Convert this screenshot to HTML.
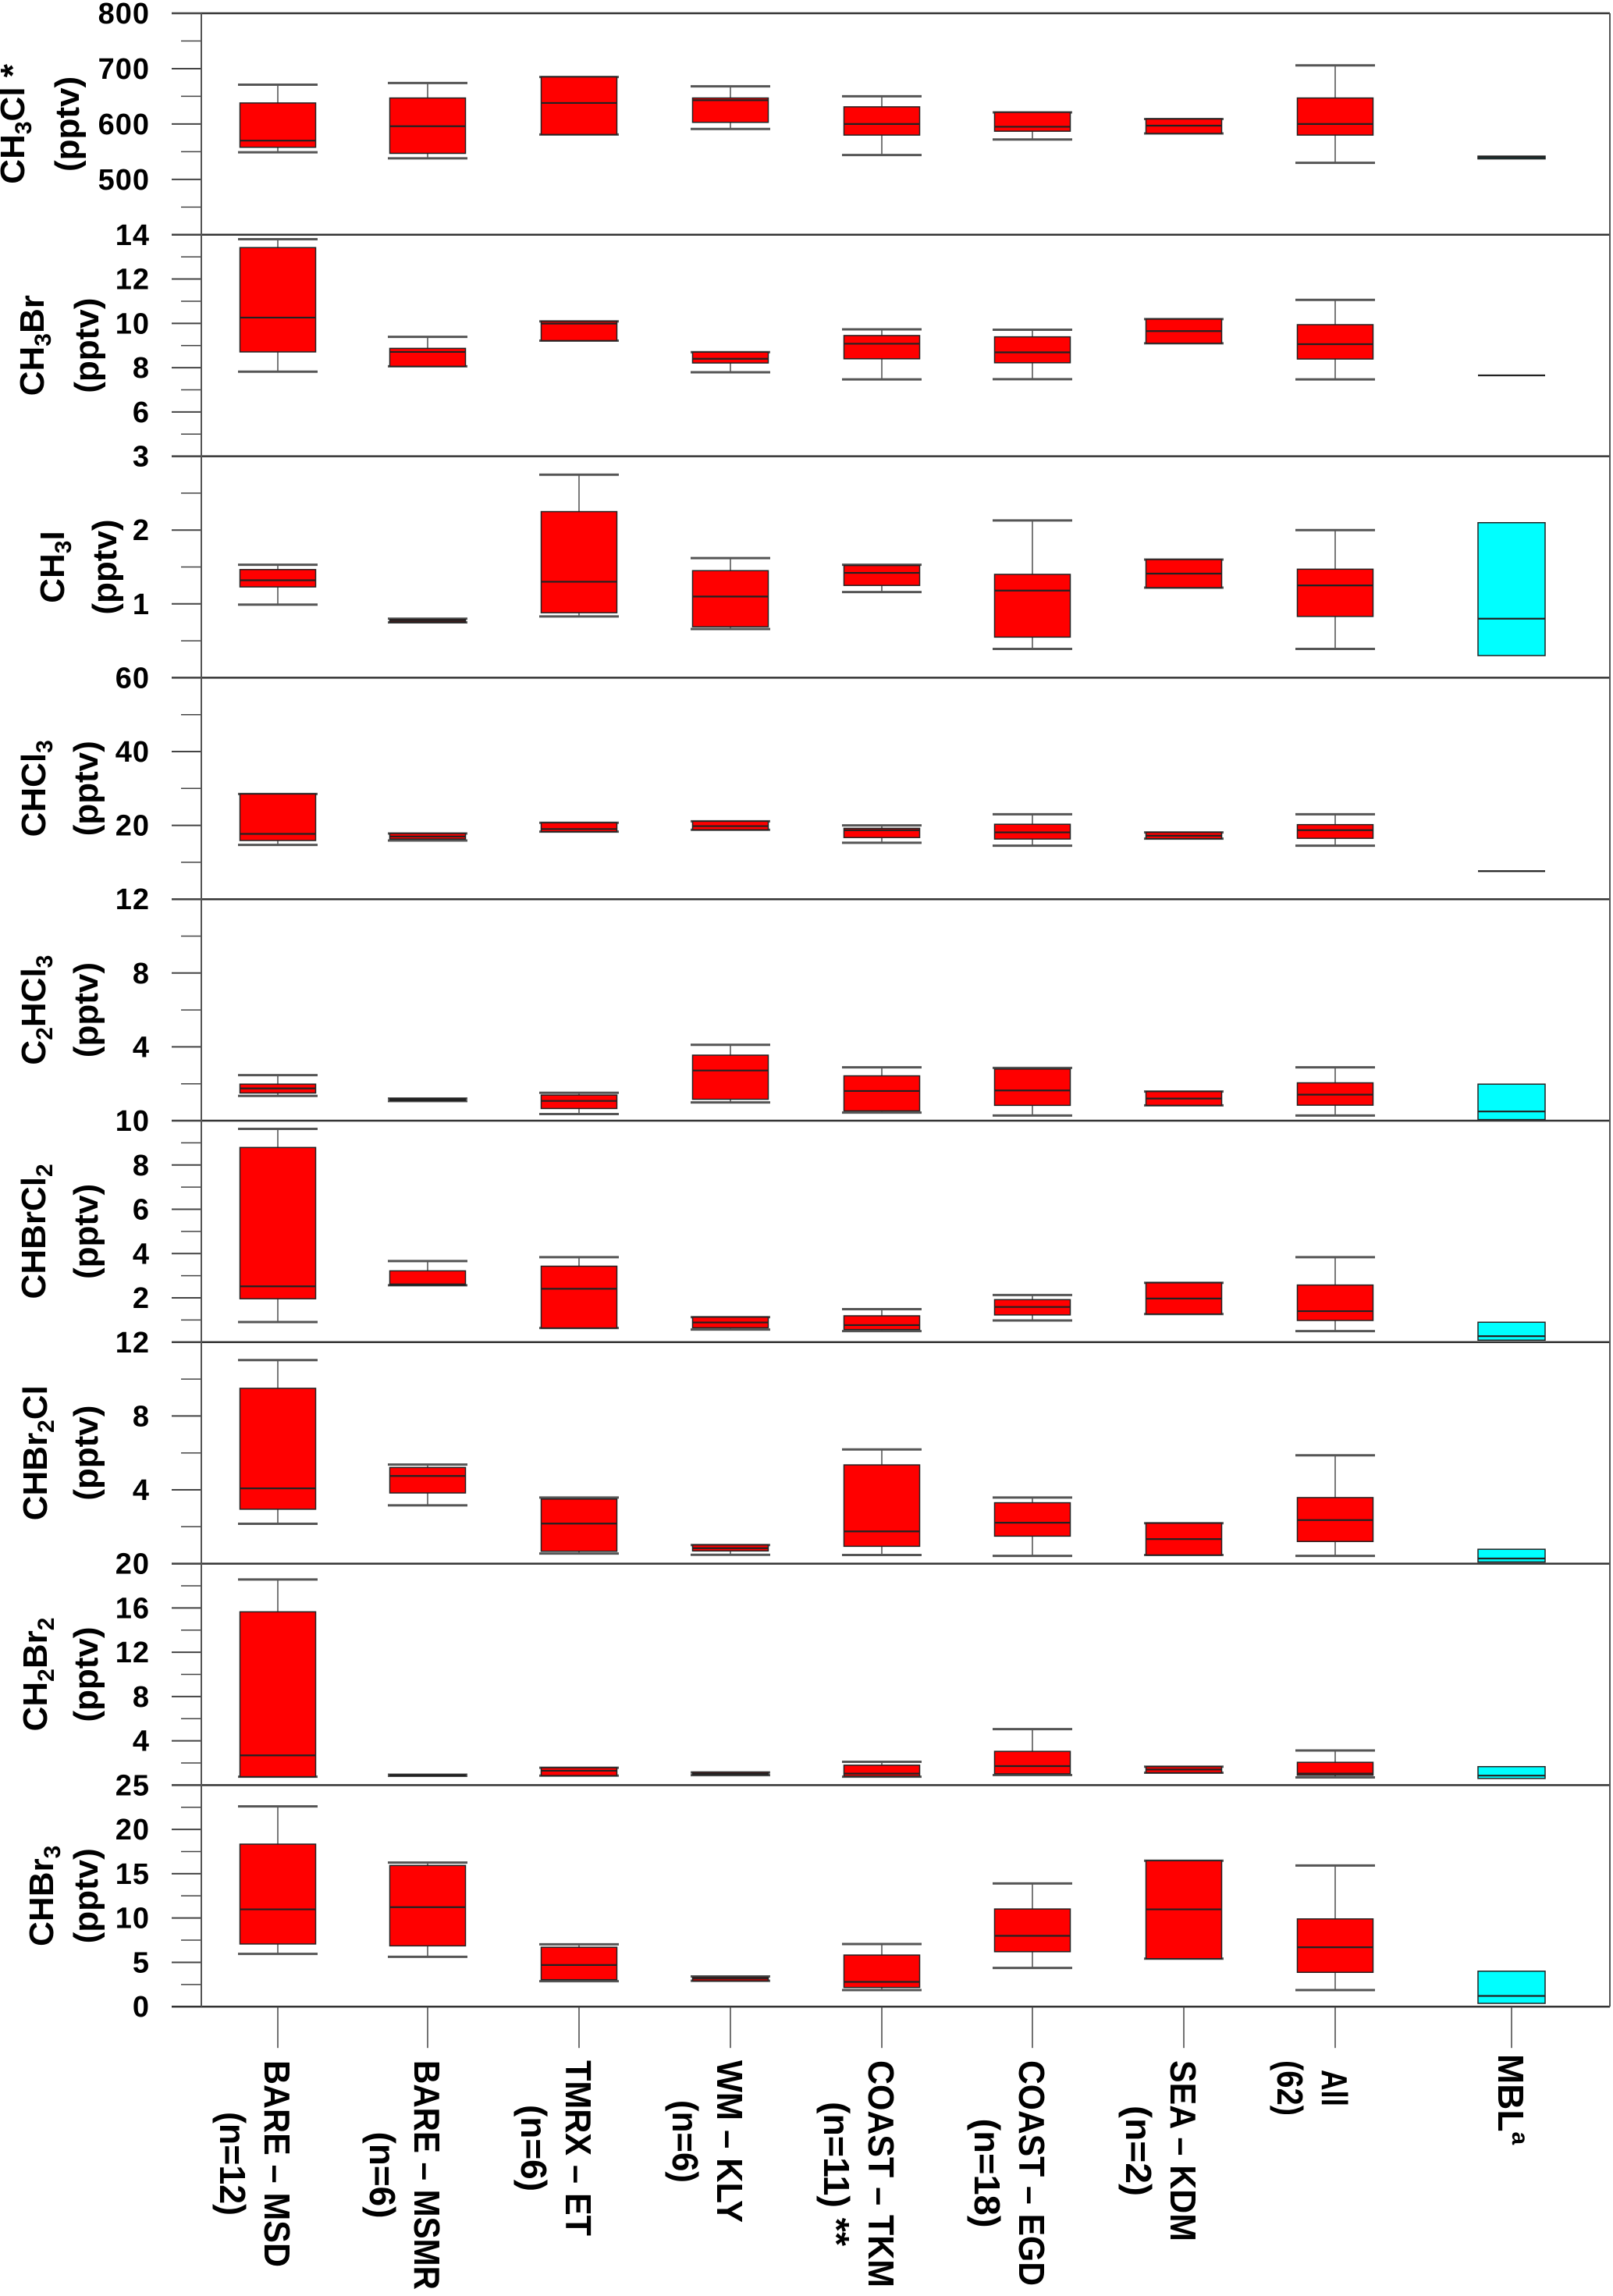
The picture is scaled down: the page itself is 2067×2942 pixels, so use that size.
<!DOCTYPE html>
<html><head><meta charset="utf-8"><style>
html,body{margin:0;padding:0;background:#fff;}
svg{display:block;font-family:"Liberation Sans",Arial,sans-serif;font-weight:bold;}
</style></head><body>
<svg id="chart" width="2067" height="2942" viewBox="0 0 2067 2942" xmlns="http://www.w3.org/2000/svg"></svg>
<script>
// ---- data ----
const categories = ["BARE – MSD","BARE – MSMR","TMRX – ET","WM – KLY","COAST – TKM","COAST – EGD","SEA – KDM","All","MBL"];
const catLine2 = ["(n=12)","(n=6)","(n=6)","(n=6)","(n=11) **","(n=18)","(n=2)","(62)",""];
// each row: [lowWhisker, q1, median, q3, highWhisker]
const ch3cl = [[549,558,570,638,671],[538,547,596,647,674],[581,581,638,685,685],[591,603,643,647,668],[544,580,600,631,650],[572,587,595,621,621],[583,583,597,609,609],[530,580,600,647,706],[537,537,540,542,542]];
const ch3br = [[7.82,8.71,10.26,13.42,13.8],[8.06,8.06,8.71,8.87,9.39],[9.22,9.22,9.99,10.09,10.09],[7.79,8.21,8.40,8.70,8.70],[7.47,8.40,9.08,9.45,9.73],[7.48,8.22,8.69,9.39,9.71],[9.10,9.10,9.65,10.19,10.19],[7.47,8.39,9.06,9.94,11.06],[7.65,7.65,7.65,7.65,7.65]];
const ch3i = [[0.99,1.23,1.32,1.465,1.53],[0.75,0.75,0.77,0.79,0.80],[0.83,0.88,1.30,2.25,2.75],[0.66,0.69,1.10,1.45,1.62],[1.16,1.25,1.42,1.52,1.53],[0.39,0.55,1.18,1.40,2.13],[1.22,1.22,1.41,1.60,1.60],[0.39,0.83,1.25,1.47,2.0],[0.30,0.30,0.80,2.10,2.10]];
const chcl3 = [[14.7,15.9,17.7,28.5,28.5],[15.9,16.3,17.0,17.8,17.8],[18.3,18.3,19.0,20.7,20.7],[18.8,18.8,19.8,21.1,21.1],[15.3,16.7,18.7,19.2,20.0],[14.5,16.3,18.1,20.3,23.0],[16.4,16.4,17.2,18.1,18.1],[14.5,16.5,18.7,20.2,23.0],[7.6,7.6,7.6,7.6,7.6]];
const c2hcl3 = [[1.34,1.50,1.75,1.98,2.47],[1.06,1.09,1.14,1.20,1.20],[0.36,0.66,1.07,1.39,1.51],[0.99,1.16,2.72,3.55,4.11],[0.44,0.53,1.61,2.43,2.89],[0.28,0.83,1.64,2.80,2.86],[0.83,0.83,1.20,1.58,1.58],[0.28,0.84,1.41,2.05,2.89],[0.06,0.06,0.50,1.98,1.98]];
const chbrcl2 = [[0.91,1.96,2.52,8.79,9.63],[2.57,2.57,2.61,3.22,3.66],[0.64,0.64,2.41,3.43,3.84],[0.57,0.65,0.89,1.13,1.13],[0.50,0.57,0.77,1.19,1.49],[0.98,1.23,1.59,1.92,2.13],[1.27,1.27,1.97,2.68,2.68],[0.50,0.98,1.40,2.58,3.84],[0.09,0.09,0.27,0.90,0.90]];
const chbr2cl = [[2.16,2.95,4.08,9.50,11.03],[3.16,3.83,4.75,5.21,5.37],[0.55,0.67,2.17,3.50,3.58],[0.48,0.69,0.84,1.01,1.01],[0.47,0.94,1.75,5.35,6.19],[0.42,1.49,2.22,3.30,3.58],[0.47,0.47,1.33,2.19,2.19],[0.42,1.20,2.36,3.58,5.87],[0.09,0.09,0.28,0.78,0.78]];
const ch2br2 = [[0.76,0.76,2.69,15.65,18.57],[0.84,0.84,0.89,0.94,0.94],[0.86,0.86,1.30,1.57,1.57],[0.90,0.94,1.02,1.15,1.15],[0.76,0.81,1.04,1.80,2.11],[0.91,1.02,1.72,3.05,5.06],[1.12,1.12,1.41,1.67,1.67],[0.70,0.89,1.04,2.06,3.13],[0.60,0.60,0.86,1.67,1.67]];
const chbr3 = [[5.95,7.07,10.98,18.34,22.6],[5.62,6.86,11.23,15.93,16.26],[2.87,3.04,4.70,6.70,7.03],[2.91,2.91,3.16,3.33,3.41],[1.87,2.16,2.79,5.82,7.07],[4.37,6.2,7.99,11.02,13.9],[5.41,5.41,10.98,16.47,16.47],[1.87,3.87,6.70,9.90,15.93],[0.37,0.37,1.21,4.0,4.0]];
// axis ranges & tick labels
const axisMin = [400,4,0,0,0,0,0,0,0];
const axisMax = [800,14,3,60,12,10,12,20,25];
const majorTicks = [[800,700,600,500],[14,12,10,8,6],[3,2,1],[60,40,20],[12,8,4],[10,8,6,4,2],[12,8,4],[20,16,12,8,4],[25,20,15,10,5,0]];
const minorTicks = [[750,650,550,450],[13,11,9,7,5],[2.5,1.5,0.5],[50,30,10],[10,6,2],[9,7,5,3,1],[10,6,2],[18,14,10,6,2],[22.5,17.5,12.5,7.5,2.5]];
const seriesNames = ["ch3cl","ch3br","ch3i","chcl3","c2hcl3","chbrcl2","chbr2cl","ch2br2","chbr3"];
const allData = [ch3cl,ch3br,ch3i,chcl3,c2hcl3,chbrcl2,chbr2cl,ch2br2,chbr3];

// ---- layout ----
const NS="http://www.w3.org/2000/svg";
const svg=document.getElementById('chart');
const top0=17, ph=283.8, xL=258, xR=2063;
const catX=[356,548,742,936,1130,1323,1517,1711,1937];
function yS(p,v){return top0+p*ph+(axisMax[p]-v)/(axisMax[p]-axisMin[p])*ph;}
function mk(tag,attrs,parent){const e=document.createElementNS(NS,tag);for(const k in attrs)e.setAttribute(k,attrs[k]);(parent||svg).appendChild(e);return e;}

// panels
for(let p=0;p<9;p++){
  const g=mk('g',{});
  
  
  const yt=top0+p*ph;
  const line=mk('line',{x1:220,x2:xR,y1:yt,y2:yt,stroke:'#333','stroke-width':2.5},g);
  
  
  majorTicks[p].forEach(v=>{
    const y=yS(p,v);
    const t=mk('line',{x1:220,x2:xL,y1:y,y2:y,stroke:'#444','stroke-width':2},g);
    
    
    const lb=mk('text',{x:192,y:y+13,'text-anchor':'end','font-size':38,fill:'#000','letter-spacing':1},g);
    lb.textContent=String(v);
    
    
  });
  minorTicks[p].forEach(v=>{
    const y=yS(p,v);
    const t=mk('line',{x1:232,x2:xL,y1:y,y2:y,stroke:'#444','stroke-width':1.5},g);
    
    
  });
  // boxes
  allData[p].forEach((d,i)=>{
    const cx=catX[i], isMBL=(i===8);
    const hw=isMBL?43:48.5;
    const bg=mk('g',{},g);
    
    
    const yLo=yS(p,d[0]),yQ1=yS(p,d[1]),yMed=yS(p,d[2]),yQ3=yS(p,d[3]),yHi=yS(p,d[4]);
    if(!isMBL){
      mk('line',{x1:cx,x2:cx,y1:yHi,y2:yQ3,stroke:'#222','stroke-width':1.2},bg);
      mk('line',{x1:cx,x2:cx,y1:yQ1,y2:yLo,stroke:'#222','stroke-width':1.2},bg);
      mk('line',{x1:cx-51,x2:cx+51,y1:yHi,y2:yHi,stroke:'#555','stroke-width':3},bg);
      mk('line',{x1:cx-51,x2:cx+51,y1:yLo,y2:yLo,stroke:'#555','stroke-width':3},bg);
    }
    const h=Math.max(yQ1-yQ3,0);
    const fill=isMBL?(h<8?'#008080':'#00ffff'):'#ff0000';
    mk('rect',{x:cx-hw,y:yQ3,width:hw*2,height:h,fill:fill,stroke:'#222','stroke-width':1.5},bg);
    mk('line',{x1:cx-hw,x2:cx+hw,y1:yMed,y2:yMed,stroke:'#222','stroke-width':2.2},bg);
  });
}
// bottom border & axes
const bottom=top0+9*ph;
const bl=mk('line',{x1:220,x2:xR,y1:bottom,y2:bottom,stroke:'#333','stroke-width':2.5});


const la=mk('line',{x1:xL,x2:xL,y1:top0,y2:bottom,stroke:'#555','stroke-width':2});


const ra=mk('line',{x1:xR,x2:xR,y1:top0,y2:bottom,stroke:'#555','stroke-width':2});



// y-axis titles
const titles=[["CH","3","Cl *"],["CH","3","Br"],["CH","3","I"],["CHCl","3",""],["C","2","HCl","3"],["CHBrCl","2",""],["CHBr","2","Cl"],["CH","2","Br","2"],["CHBr","3",""]];
const tBase1=[31,56,82,58,58,58,60,60,68];
const tBase2=[101,126,149,125,125,125,125,125,125];
titles.forEach((parts,p)=>{
  const cy=top0+(p+0.5)*ph;
  const t=mk('text',{transform:`translate(${tBase1[p]},${cy}) rotate(-90)`,'text-anchor':'middle','font-size':44,fill:'#000'});
  
  
  parts.forEach((s,k)=>{
    if(!s)return;
    const sp=mk('tspan',{},t);
    if(k%2===1){sp.setAttribute('font-size',30);sp.setAttribute('dy',9);}
    else if(k>0){sp.setAttribute('dy',-9);}
    sp.textContent=s;
  });
  const u=mk('text',{transform:`translate(${tBase2[p]},${cy}) rotate(-90)`,'text-anchor':'middle','font-size':44,fill:'#000'});
  u.textContent='(pptv)';
  
  
});

// category ticks & labels
const len1=[265,294,225,208,291,289,232,47,100];
const len2=[133,111,111,106,185,140,116,71,0];
categories.forEach((c,i)=>{
  const x=catX[i];
  const tk=mk('line',{x1:x,x2:x,y1:bottom,y2:bottom+53,stroke:'#444','stroke-width':1.5});
  
  
  const mx=Math.max(len1[i],len2[i]);
  const cy=2640+mx/2;
  const t1=mk('text',{transform:`translate(${x-17},${cy}) rotate(90)`,'text-anchor':'middle','font-size':46,fill:'#000'});
  
  
  if(i===8){
    t1.textContent='MBL';
    const sp=mk('tspan',{'font-size':30,dy:-18},t1);sp.textContent='a';
  } else {
    t1.textContent=c;
    t1.setAttribute('textLength',len1[i]);
    t1.setAttribute('lengthAdjust','spacingAndGlyphs');
  }
  if(catLine2[i]){
    const t2=mk('text',{transform:`translate(${x-74},${cy}) rotate(90)`,'text-anchor':'middle','font-size':46,fill:'#000',textLength:len2[i],lengthAdjust:'spacingAndGlyphs'});
    t2.textContent=catLine2[i];
    
    
  }
});
</script>
</body></html>
